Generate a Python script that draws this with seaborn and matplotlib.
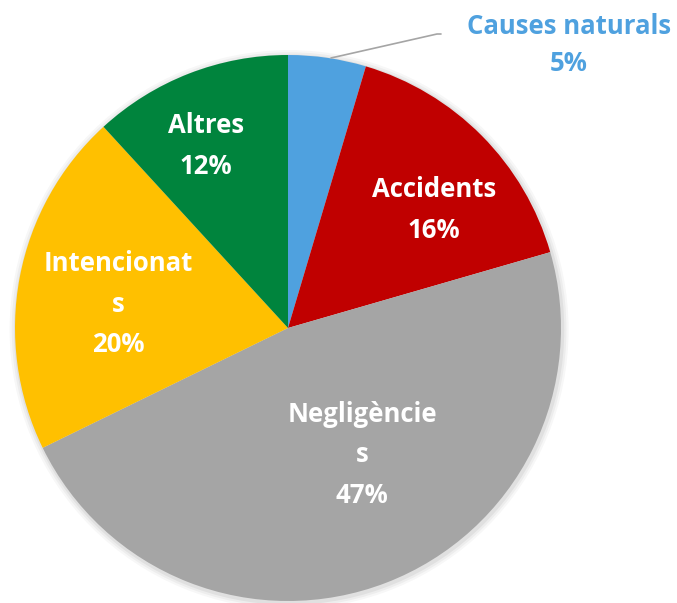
import matplotlib
matplotlib.use("Agg")
from matplotlib import pyplot as plt
import seaborn as sns

sns.set_style("white")
plt.rcParams['font.family'] = ['Open Sans', 'DejaVu Sans']

# dades del gràfic
causes = ["Causes naturals", "Accidents", "Negligències", "Intencionats", "Altres"]
valors = [4.6, 15.9, 47.2, 20.4, 11.8]
etiquetes = ["Causes naturals\n5%", "Accidents\n16%", "Negligèncie\ns\n47%",
             "Intencionat\ns\n20%", "Altres\n12%"]
colors = ["#4FA1DF", "#C00000", "#A5A5A5", "#FFC000", "#00843D"]

W, H = 677, 603
cx, cy, R = 288, 328, 273

fig = plt.figure(figsize=(W / 100, H / 100), dpi=100)
ax = fig.add_axes([0, 0, 1, 1])

# ombra suau
for i, a in enumerate([0.05, 0.04, 0.03]):
    ax.add_patch(plt.Circle((0.004, -0.006), 1 + 0.008 * (i + 1), color="black",
                            alpha=a, lw=0, zorder=0))

wedges, _ = ax.pie(valors, colors=colors, startangle=90, counterclock=False,
                   radius=1, wedgeprops=dict(linewidth=0, zorder=1))

def px(x, y):
    return ((x - cx) / R, (cy - y) / R)

fs = 18.5
pos = [None, (434, 210), (362, 455), (118, 304), (206, 146)]
for lab, p in zip(etiquetes, pos):
    if p is None:
        continue
    x, y = px(*p)
    ax.text(x, y, lab, ha="center", va="center", color="white",
            fontsize=fs, fontweight="bold", linespacing=1.65, zorder=3)

# etiqueta exterior amb línia guia
x, y = px(569, 45)
ax.text(x, y, etiquetes[0], ha="center", va="center", color=colors[0],
        fontsize=fs, fontweight="bold", linespacing=1.5, zorder=3)
p0, p1, p2 = px(331, 58), px(437, 34), px(441, 34)
ax.plot([p0[0], p1[0], p2[0]], [p0[1], p1[1], p2[1]], color="#A5A5A5", lw=1.2, zorder=2)

ax.set_xlim(-cx / R, (W - cx) / R)
ax.set_ylim(-(H - cy) / R, cy / R)
ax.set_aspect("auto")
ax.axis("off")

fig.savefig("out.png", dpi=100)
